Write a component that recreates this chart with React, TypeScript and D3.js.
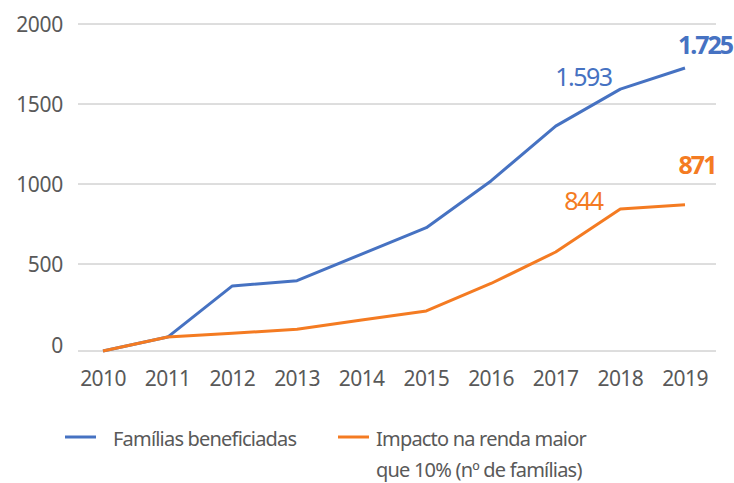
import React, { useEffect, useRef } from "react";
import { select, scaleLinear, scalePoint, line, formatLocale } from "d3";

const years = ["2010", "2011", "2012", "2013", "2014", "2015", "2016", "2017", "2018", "2019"];
const familias = [0, 80, 374, 404, 562, 727, 1019, 1362, 1593, 1725];
const impacto = [0, 80, 102, 125, 178, 230, 388, 575, 844, 871];
const yTicks = [0, 500, 1000, 1500, 2000];
const legendFamilias = ["Famílias beneficiadas"];
const legendImpacto = ["Impacto na renda maior", "que 10% (nº de famílias)"];
// which years get a value label, and whether it is bold
const labelYears = ["2018", "2019"];
const labelBold = [false, true];

const BLUE = "#4672C2";
const ORANGE = "#F47B22";
const GREY = "#595959";
const FONT = "'Noto Sans', sans-serif";

const ptBR = formatLocale({ decimal: ",", thousands: ".", grouping: [3], currency: ["R$", ""] });
const fmt = ptBR.format(",d");

export default function App() {
  const svgRef = useRef<SVGSVGElement>(null);

  useEffect(() => {
    const svg = select(svgRef.current);
    svg.selectAll("*").remove();

    const left = 78, right = 716;

    const x = scalePoint<string>().domain(years).range([103, 685]);
    // the picture's bottom band is a bit taller than the others
    const y = scaleLinear().domain([0, 500, 2000]).range([351, 264, 24]);

    // gridlines
    svg.append("g")
      .selectAll("line")
      .data(yTicks)
      .join("line")
      .attr("x1", left)
      .attr("x2", right)
      .attr("y1", (d) => y(d))
      .attr("y2", (d) => y(d))
      .attr("stroke", "#BCBCBC")
      .attr("stroke-width", 1);

    // y labels
    svg.append("g")
      .selectAll("text")
      .data(yTicks)
      .join("text")
      .attr("x", 63)
      .attr("y", (d) => (d === 0 ? y(d) - 6 : y(d)))
      .attr("dy", "0.36em")
      .attr("text-anchor", "end")
      .attr("font-family", FONT)
      .attr("font-size", 21)
      .attr("letter-spacing", -0.3)
      .attr("fill", GREY)
      .text((d) => d);

    // x labels
    svg.append("g")
      .selectAll("text")
      .data(years)
      .join("text")
      .attr("x", (d) => x(d)!)
      .attr("y", 386)
      .attr("text-anchor", "middle")
      .attr("font-family", FONT)
      .attr("font-size", 21)
      .attr("letter-spacing", -0.6)
      .attr("fill", GREY)
      .text((d) => d);

    const path = line<number>()
      .x((d, i) => x(years[i])!)
      .y((d) => y(d));

    const series = [
      { values: familias, color: BLUE },
      { values: impacto, color: ORANGE },
    ];

    svg.append("g")
      .selectAll("path")
      .data(series)
      .join("path")
      .attr("d", (s) => path(s.values))
      .attr("fill", "none")
      .attr("stroke", (s) => s.color)
      .attr("stroke-width", 3)
      .attr("stroke-linejoin", "round");

    // value labels
    labelYears.forEach((yr, k) => {
      const i = years.indexOf(yr);
      const bold = labelBold[k];
      svg.append("text")
        .attr("x", x(yr)! + (bold ? 20 : -37))
        .attr("y", y(familias[i]) - (bold ? 14 : 3))
        .attr("text-anchor", "middle")
        .attr("font-family", FONT)
        .attr("font-size", 25)
        .attr("font-weight", bold ? 700 : 400)
        .attr("letter-spacing", bold ? -2 : -1.5)
        .attr("fill", BLUE)
        .text(fmt(familias[i]));
      svg.append("text")
        .attr("x", x(yr)! + (bold ? 12 : -37))
        .attr("y", y(impacto[i]) + (bold ? -31 : 1))
        .attr("text-anchor", "middle")
        .attr("font-family", FONT)
        .attr("font-size", 25)
        .attr("font-weight", bold ? 700 : 400)
        .attr("letter-spacing", bold ? -2 : -1.5)
        .attr("fill", ORANGE)
        .text(fmt(impacto[i]));
    });

    // legend
    const leg = svg.append("g").attr("font-family", FONT).attr("font-size", 20).attr("fill", GREY);
    leg.append("line").attr("x1", 65).attr("x2", 96).attr("y1", 437).attr("y2", 437)
      .attr("stroke", BLUE).attr("stroke-width", 3);
    leg.selectAll("text.f")
      .data(legendFamilias)
      .join("text")
      .attr("class", "f")
      .attr("x", 113)
      .attr("y", (d, i) => 446 + i * 31)
      .attr("letter-spacing", -0.8)
      .text((d) => d);
    leg.append("line").attr("x1", 338).attr("x2", 369).attr("y1", 437).attr("y2", 437)
      .attr("stroke", ORANGE).attr("stroke-width", 3);
    leg.selectAll("text.i")
      .data(legendImpacto)
      .join("text")
      .attr("class", "i")
      .attr("x", 376)
      .attr("y", (d, i) => 446 + i * 31)
      .attr("letter-spacing", -0.8)
      .text((d) => d);
  }, []);

  return (
    <svg
      ref={svgRef}
      width={734}
      height={483}
      style={{ position: "absolute", left: 0, top: 0, background: "#fff" }}
    />
  );
}
